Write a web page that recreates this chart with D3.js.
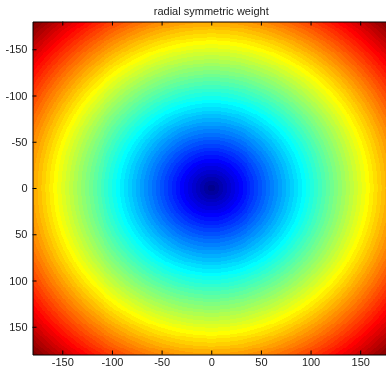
<!DOCTYPE html>
<html>
<head>
<meta charset="utf-8">
<script src="https://cdn.jsdelivr.net/npm/d3@7"></script>
<style>
  body { margin: 0; background: #fff; overflow: hidden; }
  #chart { position: relative; width: 386px; height: 368px; }
  #chart canvas, #chart svg { position: absolute; left: 0; top: 0; }
</style>
</head>
<body>
<div id="chart"></div>
<script>
// grid of the weight image, one sample per unit
const xCoords = d3.range(-180, 181);
const yCoords = d3.range(-180, 181);
const xTicks = [-150, -100, -50, 0, 50, 100, 150];
const yTicks = [-150, -100, -50, 0, 50, 100, 150];
const titleText = "radial symmetric weight";

const W = 386, H = 368;
const plot = { left: 32.5, top: 21.5, right: 390, bottom: 354.5 };

const x = d3.scaleLinear().domain([-180, 180]).range([plot.left, plot.right]);
const y = d3.scaleLinear().domain([-180, 180]).range([plot.top, plot.bottom]);

// matlab jet, 64 entries
function jet(m) {
  const n = Math.ceil(m / 4);
  const u = [];
  for (let i = 1; i <= n; i++) u.push(i / n);
  for (let i = 1; i < n; i++) u.push(1);
  for (let i = n; i >= 1; i--) u.push(i / n);
  const off = Math.ceil(n / 2) - (m % 4 == 1 ? 1 : 0);
  const J = d3.range(m).map(() => [0, 0, 0]);
  u.forEach((v, k) => {
    const g = off + k + 1;
    const r = g + n, b = g - n;
    if (g >= 1 && g <= m) J[g - 1][1] = v;
    if (r >= 1 && r <= m) J[r - 1][0] = v;
    if (b >= 1 && b <= m) J[b - 1][2] = v;
  });
  return J;
}
const cmap = jet(64);

// weight = distance from the centre
const weight = yCoords.map(yy => xCoords.map(xx => Math.sqrt(xx * xx + yy * yy)));
const wMax = d3.max(weight, row => d3.max(row));
const level = d3.scaleQuantize().domain([0, wMax]).range(d3.range(64));

const canvas = d3.select("#chart").append("canvas")
  .attr("width", W).attr("height", H);
const ctx = canvas.node().getContext("2d");
const img = ctx.createImageData(W, H);
const x0 = Math.round(plot.left), y0 = Math.round(plot.top);
const x1 = W, y1 = Math.round(plot.bottom);
for (let py = y0; py < y1; py++) {
  const yi = Math.max(0, Math.min(yCoords.length - 1, Math.round(y.invert(py + 0.5)) + 180));
  for (let px = x0; px < x1; px++) {
    const xi = Math.max(0, Math.min(xCoords.length - 1, Math.round(x.invert(px + 0.5)) + 180));
    const c = cmap[Math.min(63, level(weight[yi][xi]))];
    const k = (py * W + px) * 4;
    img.data[k] = Math.round(c[0] * 255);
    img.data[k + 1] = Math.round(c[1] * 255);
    img.data[k + 2] = Math.round(c[2] * 255);
    img.data[k + 3] = 255;
  }
}
ctx.putImageData(img, 0, 0);

const svg = d3.select("#chart").append("svg")
  .attr("width", W).attr("height", H)
  .style("font-family", "Liberation Sans, Arial, sans-serif");

const fs = "11px";
svg.append("text")
  .attr("x", x(0)).attr("y", 15)
  .attr("text-anchor", "middle")
  .attr("font-size", fs)
  .attr("fill", "#222")
  .text(titleText);

// axes, matlab style: inward ticks on all sides, plain hyphen minus
const fmt = d => String(d);
const tl = 4;
const bottomAx = d3.axisBottom(x).tickValues(xTicks).tickFormat(fmt).tickSizeInner(-tl).tickSizeOuter(0).tickPadding(4);
const topAx = d3.axisTop(x).tickValues(xTicks).tickSizeInner(-tl).tickSizeOuter(0).tickFormat("");
const leftAx = d3.axisLeft(y).tickValues(yTicks).tickFormat(fmt).tickSizeInner(-tl).tickSizeOuter(0).tickPadding(5);
const rightAx = d3.axisRight(y).tickValues(yTicks).tickSizeInner(-tl).tickSizeOuter(0).tickFormat("");

function style(g) {
  g.selectAll("path").attr("stroke", "#000");
  g.selectAll("line").attr("stroke", "#000");
  g.selectAll("text").attr("fill", "#222").attr("font-size", fs).attr("font-family", null);
}
svg.append("g").attr("transform", `translate(0,${plot.bottom})`).call(bottomAx).call(style);
svg.append("g").attr("transform", `translate(0,${plot.top})`).call(topAx).call(style);
svg.append("g").attr("transform", `translate(${plot.left},0)`).call(leftAx).call(style);
svg.append("g").attr("transform", `translate(${plot.right},0)`).call(rightAx).call(style);
</script>
</body>
</html>
